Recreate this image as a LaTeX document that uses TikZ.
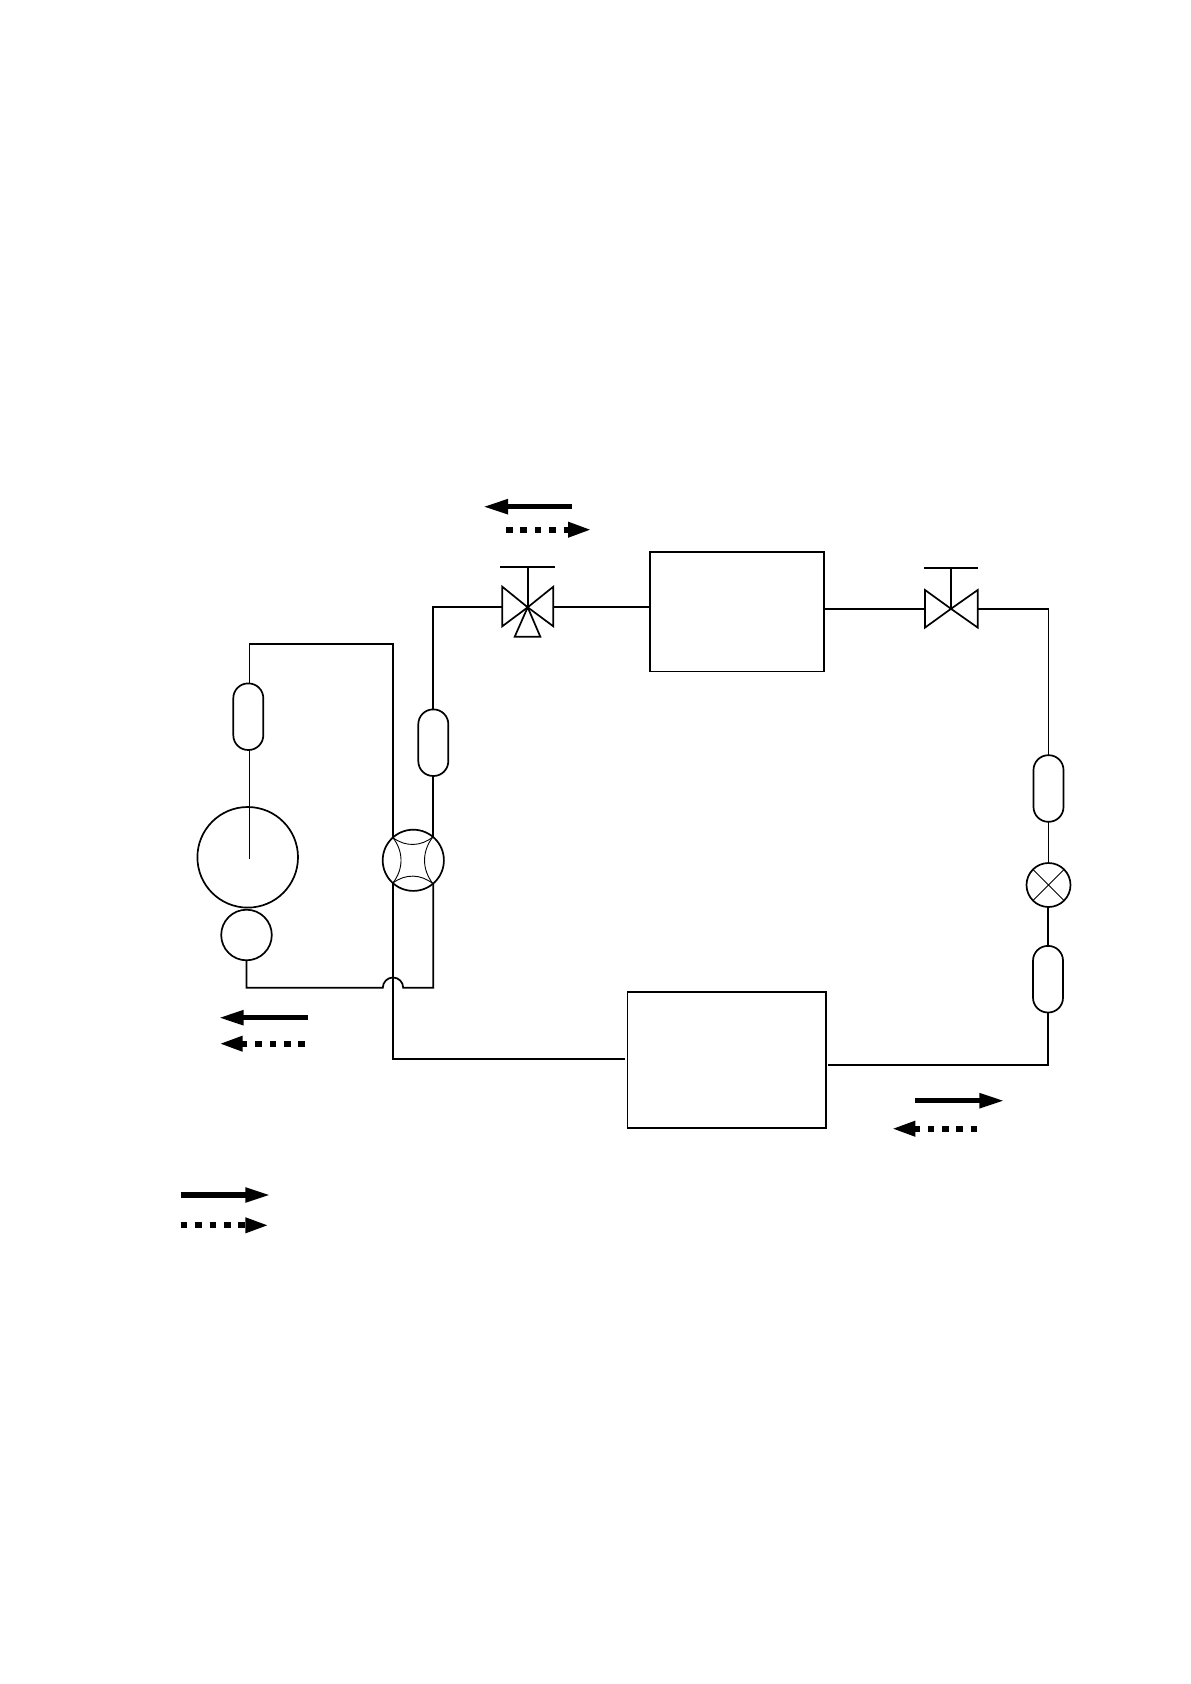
\documentclass[tikz,border=0pt]{standalone}
\usetikzlibrary{arrows.meta}
\tikzset{
  pipe/.style = {line width=.85pt},
  thinpipe/.style = {line width=.45pt},
  capsule/.style = {draw, pipe, rectangle, rounded corners=7.4pt, minimum width=15pt, minimum height=33.3pt, inner sep=0pt, outer sep=0pt},
  ring/.style = {draw, pipe, circle, inner sep=0pt, outer sep=0pt},
  unit/.style = {draw, pipe, rectangle, inner sep=0pt, outer sep=0pt},
  flowsolid/.style = {line width=2.6pt, -{Triangle[length=12.5pt,width=7pt]}},
  flowdash/.style = {line width=3pt, dash pattern=on 3.3pt off 3.9pt, -{Triangle[length=12pt,width=7pt]}}
}
\begin{document}
\begin{tikzpicture}[x=.5pt,y=-.5pt]
  \useasboundingbox (0,0) rectangle (1190,1684);

  \node[capsule] (capA) at (248.3,716.7) {};
  \node[capsule] (capB) at (433.3,742.7) {};
  \node[capsule] (capC) at (1048.5,788.5) {};
  \node[capsule] (capD) at (1048,979.2) {};
  \node[ring, minimum size=50.3pt] (shell) at (247.7,857.3) {};
  \node[ring, minimum size=25.3pt] (motor) at (246.5,935) {};
  \node[ring, minimum size=30.6pt] (fourway) at (413.3,860.3) {};
  \node[ring, minimum size=22pt] (expan) at (1048.5,885) {};
  \node[unit, minimum width=87pt, minimum height=59.7pt] (indoor) at (737,611.7) {};
  \node[unit, minimum width=99.4pt, minimum height=68.2pt] (outdoor) at (726.9,1059.9) {};

  \coordinate (valveA) at (527.7,607.3);
  \coordinate (valveAl) at (502.3,607.3);
  \coordinate (valveAr) at (553.3,607.3);
  \coordinate (valveB) at (951,608.8);
  \coordinate (valveBl) at (925,608.8);
  \coordinate (valveBr) at (977.7,608.8);

  \draw[pipe] (valveA) -- ++(-25.4,-20.6) -- ++(0,39.6) -- cycle;
  \draw[pipe] (valveA) -- ++(25.6,-20.6) -- ++(0,39.6) -- cycle;
  \draw[pipe] (valveA) -- ++(-13,29.4) -- ++(25.6,0) -- cycle;
  \draw[pipe] (valveA) -- ++(0,-40.6) ++(-27.7,0) -- ++(55.3,0);
  \draw[pipe] (valveB) -- ++(-26,-18.8) -- ++(0,37.6) -- cycle;
  \draw[pipe] (valveB) -- ++(26.7,-18.8) -- ++(0,37.6) -- cycle;
  \draw[pipe] (valveB) -- ++(0,-41) ++(-26.7,0) -- ++(54,0);

  \coordinate (topL) at (249.5,643.7);
  \coordinate (topR) at (393,643.7);
  \coordinate (hopL) at (382.8,987.7);
  \coordinate (hopR) at (403.2,987.7);
  \coordinate (lowL) at (246.5,987.7);
  \coordinate (lowR) at (433.3,987.7);
  \coordinate (upR) at (433.3,607.3);
  \coordinate (crossB) at (393,1058.7);
  \coordinate (inB) at (625.3,1058.7);
  \coordinate (outB) at (828.4,1064.7);
  \coordinate (cornerB) at (1048,1064.7);
  \coordinate (cornerT) at (1048.5,608.8);
  \coordinate (shellin) at (249.5,859.3);

  \draw[pipe] (capA.north -| topL) -- (topL) -- (topR) -- (topR |- fourway.132);
  \draw[pipe] (capA.south -| shellin) -- (shellin);
  \draw[pipe] (motor.south) -- (lowL) -- (hopL) arc[start angle=180, end angle=0, radius=5.1pt] -- (lowR) -- (lowR |- fourway.310);
  \draw[pipe] (topR |- fourway.228) -- (crossB) -- (inB);
  \draw[pipe] (lowR |- fourway.50) -- (capB.south);
  \draw[pipe] (capB.north) -- (upR) -- (valveAl);
  \draw[pipe] (valveAr) -- (valveAr -| indoor.west);
  \draw[pipe] (valveBl -| indoor.east) -- (valveBl);
  \draw[pipe] (valveBr) -- (cornerT) -- (capC.north);
  \draw[pipe] (capC.south) -- (expan.north);
  \draw[pipe] (expan.south) -- (expan.south -| capD.north) -- (capD.north);
  \draw[pipe] (capD.south) -- (cornerB) -- (outB);

  \foreach \a/\b in {132/50,50/310,310/228,228/132}{
    \draw[thinpipe] (fourway.\a) to[bend right=38] (fourway.\b);
  }
  \foreach \a/\b in {45/225,135/315}{
    \draw[thinpipe] (expan.\a) -- (expan.\b);
  }

  \foreach \nm/\xa/\xb/\yy in {fa/571.7/483/506.7, fb/307.7/218.7/1017.7, fc/915/1004.3/1100.7, fd/180.7/270.3/1195}{
    \coordinate (\nm s) at (\xa,\yy);
    \coordinate (\nm e) at (\xb,\yy);
    \draw[flowsolid] (\nm s) -- (\nm e);
  }
  \foreach \nm/\xa/\xb/\yy in {ga/506/592/529.7, gb/305/218.7/1043.7, gc/977.3/891.3/1128.7, gd/180.7/269.3/1225.3}{
    \coordinate (\nm s) at (\xa,\yy);
    \coordinate (\nm e) at (\xb,\yy);
    \draw[flowdash] (\nm s) -- (\nm e);
  }
\end{tikzpicture}
\end{document}
